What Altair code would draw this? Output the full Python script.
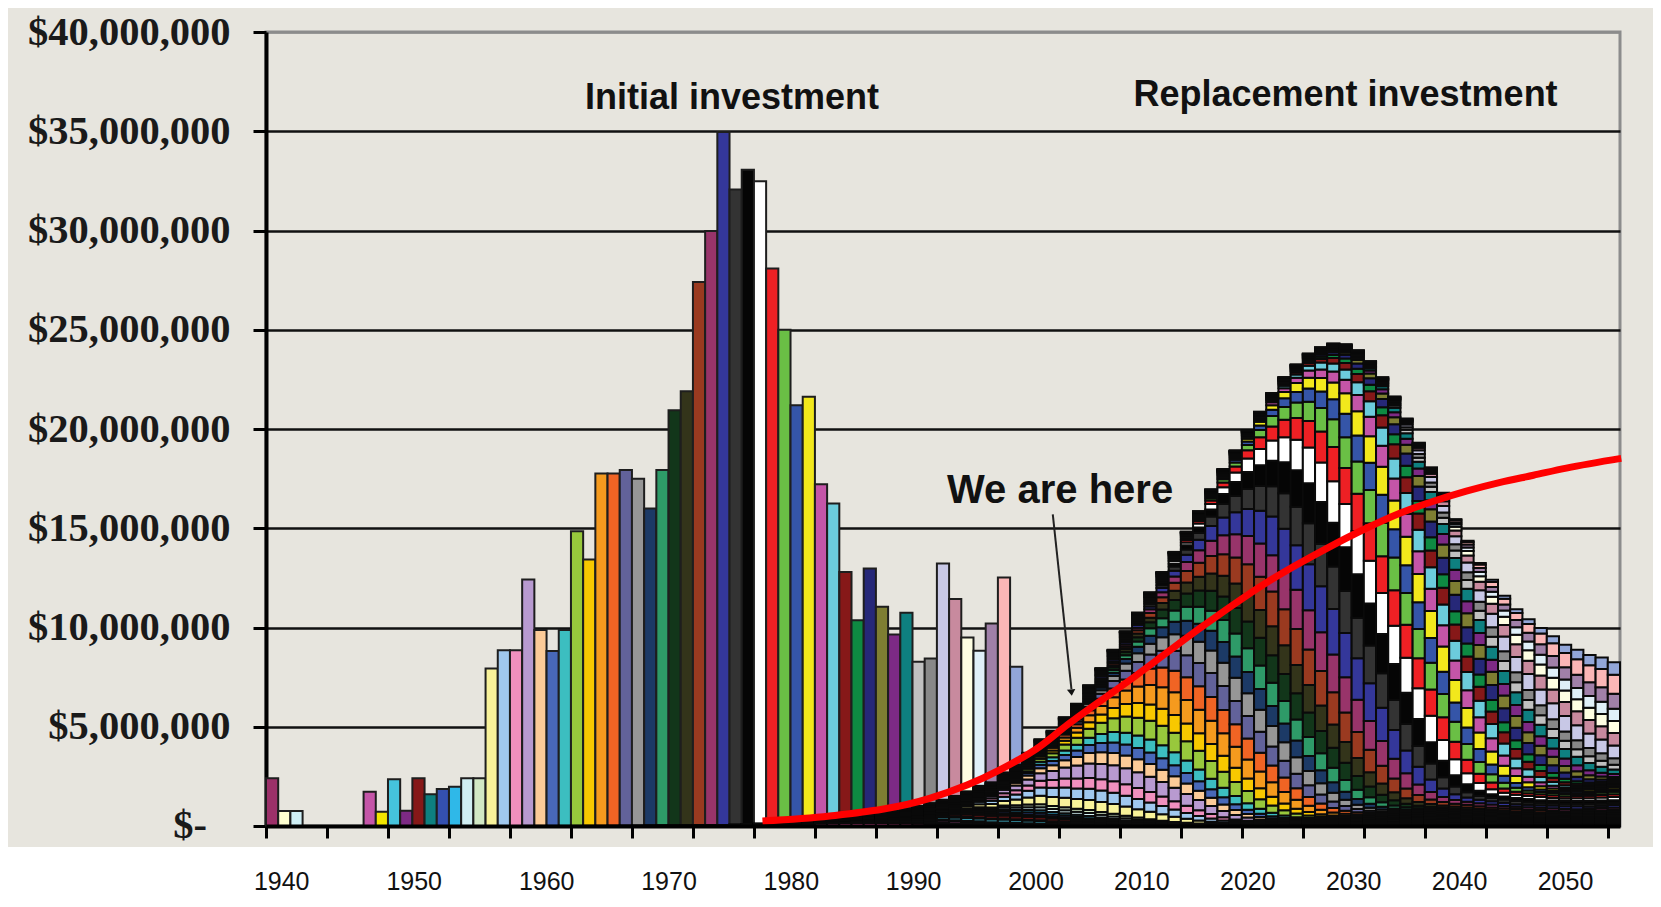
import altair as alt
import pandas as pd

# ---------------- data ----------------
cohort_years = list(range(1940, 2002))
# initial investment per year, millions of dollars
initial_musd = [
    2.40, 0.75, 0.75, 0.00, 0.00, 0.00, 0.00, 0.00, 1.73, 0.72,      # 1940-49
    2.35, 0.77, 2.40, 1.60, 1.86, 1.98, 2.40, 2.40, 7.94, 8.86,      # 1950-59
    8.86, 12.42, 9.87, 8.81, 9.87, 14.85, 13.43, 17.76, 17.76, 17.93,  # 1960-69
    17.50, 16.00, 17.93, 20.95, 21.90, 27.40, 29.97, 34.96, 32.06, 33.06,  # 1970-79
    32.48, 28.08, 25.00, 21.20, 21.62, 17.22, 16.25, 12.80, 10.37, 12.97,  # 1980-89
    11.04, 9.65, 10.74, 8.27, 8.44, 13.23, 11.43, 9.50, 8.83, 10.20,   # 1990-99
    12.52, 8.02,                                                       # 2000-01
]
cohort_colors = [
    "#9C3069", "#FFFFD0", "#CFEFF5", "#660066", "#FF8080", "#0066CC", "#CCCCFF", "#000080", "#C455A8", "#F2E600",
    "#45C3DC", "#7D2A85", "#861818", "#0E8080", "#3450B0", "#2FB8E8", "#D0EEF2", "#D2E8C4", "#F8F29A", "#A0C8EE",
    "#F090BE", "#B89AD0", "#FCCB98", "#4868B8", "#3CBEC0", "#98C83C", "#F8C800", "#F59A1E", "#F06424", "#62629A",
    "#969696", "#1C3A66", "#2E9A68", "#12361A", "#33341A", "#9A3A20", "#98346A", "#34379A", "#333333", "#050505",
    "#FFFFFF", "#EE2024", "#6ABF45", "#3555A8", "#F2E81C", "#C455A8", "#6CCCDC", "#861818", "#0E8A42", "#262878",
    "#7E7E32", "#7D2A85", "#0E8080", "#C0C0C0", "#888888", "#C8C8E6", "#C88A9E", "#FEFEE2", "#E0F0F8", "#A080A8",
    "#FBB6B6", "#92A6D8",
]
life_age_start = 20
life_weights = [
    0.001, 0.001, 0.001, 0.001, 0.001, 0.001,            # 20-25
    0.002, 0.002, 0.002, 0.002, 0.002,                   # 26-30
    0.003, 0.003, 0.003, 0.004, 0.004, 0.006, 0.008,     # 31-37
    0.010, 0.014, 0.020, 0.024, 0.030, 0.037, 0.045, 0.053, 0.058, 0.061,  # 38-47
    0.063, 0.063, 0.062, 0.060, 0.056, 0.051, 0.045, 0.039, 0.031, 0.024,  # 48-57
    0.017, 0.012, 0.008, 0.006, 0.005, 0.005, 0.005,     # 58-64
    0.004, 0.004, 0.004, 0.004, 0.004, 0.004,            # 65-70
    0.003, 0.003, 0.003, 0.003, 0.003, 0.003, 0.003, 0.003, 0.003, 0.003,  # 71-80
    0.002, 0.002, 0.002, 0.002, 0.002, 0.002, 0.002, 0.002, 0.002, 0.002,  # 81-90
    0.001, 0.001, 0.001, 0.001, 0.001, 0.001, 0.001, 0.001, 0.001,         # 91-99
]
# replacement column totals read from the envelope, millions
repl_years = list(range(1999, 2051))
repl_total_musd = [
    2.20, 2.70, 3.10,
    3.69, 4.37, 4.80, 5.48, 6.16, 7.09, 7.95, 8.88, 9.81, 10.75, 11.77, 12.79, 13.81,
    14.83, 15.86, 16.96, 17.98, 18.92, 19.94, 20.87, 21.81, 22.61, 23.25,
    23.80, 24.12, 24.31, 24.27, 23.97, 23.42, 22.61, 21.64, 20.53, 19.31, 18.07, 16.79,
    15.46, 14.37, 13.25, 12.40, 11.60, 10.92, 10.41, 9.98, 9.56, 9.13, 8.88, 8.62, 8.49, 8.25,
]
# red curve
line_years = [1980.7, 1986.2, 1994.4, 2000.2, 2003.4, 2005.7, 2011.2, 2016.8, 2022.3,
              2026.7, 2030.2, 2033.0, 2035.7, 2038.4, 2041.1, 2043.9, 2046.6, 2051.1]
line_musd = [0.25, 0.50, 1.39, 2.84, 3.99, 5.10, 7.52, 10.07, 12.37,
             13.90, 15.00, 15.77, 16.36, 16.87, 17.30, 17.67, 18.03, 18.52]
year_labels = [1940, 1950, 1960, 1970, 1980, 1990, 2000, 2010, 2020, 2030, 2040, 2050]
tick_years = list(range(1940, 2051, 5))
y_ticks = [v * 5_000_000 for v in range(9)]

# ---------------- tables ----------------
M = 1_000_000
init_df = pd.DataFrame({
    "year": cohort_years,
    "year_end": [y + 1 for y in cohort_years],
    "value": [v * M for v in initial_musd],
    "color": cohort_colors,
})
init_df = init_df[init_df["value"] > 0]

color_of = dict(zip(cohort_years, cohort_colors))
parts = {}
for c, v in zip(cohort_years, initial_musd):
    if v <= 0:
        continue
    for k, w in enumerate(life_weights):
        yr = c + life_age_start + k
        if yr > 2050:
            break
        parts.setdefault(yr, []).append((c, v * w))
obs = dict(zip(repl_years, repl_total_musd))
rows = []
for yr in sorted(parts):
    segs = sorted(parts[yr])
    tot = sum(s for _, s in segs)
    f = obs[yr] / tot if yr in obs else 1.0
    base = 0.0
    for c, s in segs:
        h = s * f
        rows.append({"year": yr, "year_end": yr + 1, "y0": base * M, "y1": (base + h) * M,
                     "color": color_of[c]})
        base += h
repl_df = pd.DataFrame(rows)

line_df = pd.DataFrame({"x": line_years, "y": [v * M for v in line_musd]})

xs = alt.Scale(domain=[1940, 2051], nice=False, zero=False)
ys = alt.Scale(domain=[0, 40 * M], nice=False)

LABEL_FS = 40.5

x_axis = alt.Axis(values=tick_years, labels=False, title=None, grid=False,
                  domainColor="#000000", domainWidth=4, tickColor="#000000",
                  tickWidth=3, tickSize=12, zindex=1)
y_axis = alt.Axis(values=y_ticks, title=None,
                  labelExpr="datum.value == 0 ? '' : '$' + format(datum.value, ',.0f')",
                  labelFont="Liberation Serif", labelFontSize=LABEL_FS, labelFontWeight="bold",
                  labelColor="#1a1a1a", labelPadding=23, labelLimit=0,
                  domainColor="#000000", domainWidth=4, tickColor="#000000",
                  tickWidth=3, tickSize=13,
                  grid=True, gridWidth=2.5,
                  gridColor={"condition": {"test": "datum.value >= 40000000", "value": "#8c8c8c"},
                             "value": "#111111"})

strip = alt.Chart(pd.DataFrame({"a": [0]})).mark_rect(color="white").encode(
    x=alt.value(-300), x2=alt.value(1500), y=alt.value(815), y2=alt.value(900))

bars = alt.Chart(init_df).mark_rect(stroke="#1e1e1e", strokeWidth=2).encode(
    x=alt.X("year:Q", scale=xs, axis=x_axis),
    x2="year_end:Q",
    y=alt.Y("value:Q", scale=ys, axis=y_axis),
    y2=alt.datum(0),
    color=alt.Color("color:N", scale=None),
)

# the "$-" zero label sits left of the other labels (accounting format)
zero_label = alt.Chart(pd.DataFrame({"t": ["$-"], "v": [0]})).mark_text(
    font="Liberation Serif", fontSize=LABEL_FS, fontWeight="bold", color="#1a1a1a",
    align="right", baseline="middle").encode(
    x=alt.value(-59), y=alt.Y("v:Q", scale=ys), text="t:N")

repl = alt.Chart(repl_df).mark_rect(stroke="#0a0a0a", strokeWidth=2).encode(
    x=alt.X("year:Q", scale=xs),
    x2="year_end:Q",
    y=alt.Y("y0:Q", scale=ys),
    y2="y1:Q",
    color=alt.Color("color:N", scale=None),
)

red = alt.Chart(line_df).mark_line(color="#FF0000", strokeWidth=7, interpolate="monotone").encode(
    x=alt.X("x:Q", scale=xs), y=alt.Y("y:Q", scale=ys))

arrow_df = pd.DataFrame({"x": [2004.5, 2006.03], "y": [15.7 * M, 6.9 * M]})
arrow = alt.Chart(arrow_df).mark_line(color="#222222", strokeWidth=2).encode(
    x=alt.X("x:Q", scale=xs), y=alt.Y("y:Q", scale=ys))
head = alt.Chart(pd.DataFrame({"x": [2006.03], "y": [6.72 * M]})).mark_point(
    shape="M-0.65,-0.5L0.65,-0.5L0,0.5Z", size=169, filled=True, color="#111111",
    opacity=1, angle=354).encode(x=alt.X("x:Q", scale=xs), y=alt.Y("y:Q", scale=ys))

ann_df = pd.DataFrame({
    "text": ["Initial investment", "Replacement investment"],
    "x": [1978.2, 2028.5],
    "y": [36.14 * M, 36.25 * M],
})
titles = alt.Chart(ann_df).mark_text(font="Liberation Sans", fontSize=36, fontWeight="bold",
                                     color="#111111", align="center", baseline="alphabetic").encode(
    x=alt.X("x:Q", scale=xs), y=alt.Y("y:Q", scale=ys), text="text:N")
here = alt.Chart(pd.DataFrame({"text": ["We are here"], "x": [2005.1], "y": [16.25 * M]})).mark_text(
    font="Liberation Sans", fontSize=40, fontWeight="bold", color="#111111",
    align="center", baseline="alphabetic").encode(
    x=alt.X("x:Q", scale=xs), y=alt.Y("y:Q", scale=ys), text="text:N")

main = alt.layer(strip, bars, zero_label, repl, red, arrow, head, titles, here)

lab_df = pd.DataFrame({"yr": year_labels, "txt": [str(y) for y in year_labels]})
labels = alt.Chart(lab_df).mark_text(font="Liberation Sans", fontSize=25, color="#111111",
                                     align="center", baseline="alphabetic").encode(
    x=alt.X("yr:Q", axis=None,
            scale=alt.Scale(domain=[1940, 1960, 2000, 2050], range=[15.7, 280.7, 770, 1299.5],
                            nice=False, zero=False)),
    y=alt.value(858),
    text="txt:N",
)

chart = alt.layer(main, labels).resolve_scale(x="independent").properties(
    width=1354, height=794,
    autosize=alt.AutoSizeParams(type="none"),
    padding={"left": 258, "top": 24, "right": 33, "bottom": 73},
).configure(background="#E7E5DE").configure_view(stroke="#8c8c8c", strokeWidth=3)

chart.save("out.html", embed_options={"renderer": "svg", "actions": False})
